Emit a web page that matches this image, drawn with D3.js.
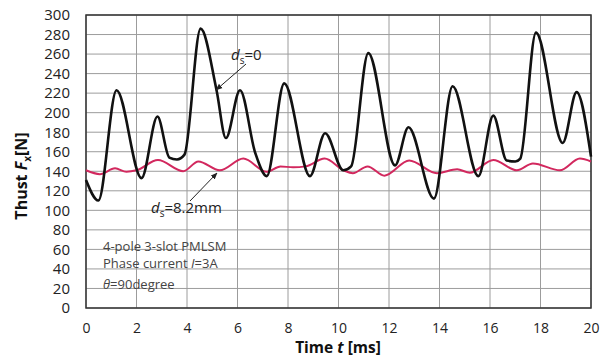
<!DOCTYPE html>
<html>
<head>
<meta charset="utf-8">
<script src="https://cdn.jsdelivr.net/npm/d3@7"></script>
<style>body{margin:0;background:#fff;}</style>
</head>
<body>
<script type="text/javascript">
var w = 609, h = 358;

// thrust with ds=0 (black)
var t0 = [0, 0.49, 1.21, 2.2, 2.83, 3.3, 3.6, 3.9, 4.54, 5.17, 5.54, 6.1, 6.7, 7.16, 7.85, 8.87, 9.47, 10.19, 10.5, 11.18, 12.24, 12.77, 13.78, 14.52, 15.54, 16.13, 16.66, 17.0, 17.2, 17.82, 18.88, 19.43, 20];
var f0 = [131, 110, 223, 133, 196, 154, 152, 157, 286, 223, 174, 223, 159, 135, 230, 135, 179, 141, 145, 261, 146, 185, 112, 227, 135, 197, 151, 150, 153, 282, 169, 221, 155];

// thrust with ds=8.2mm (red)
var t82 = [0, 0.55, 1.15, 1.6, 2.0, 2.85, 3.85, 4.45, 5.3, 6.23, 7.16, 7.7, 8.2, 8.7, 9.45, 10.2, 10.57, 11.15, 11.82, 12.8, 13.9, 14.7, 15.2, 16.13, 17.06, 17.7, 18.77, 19.56, 20];
var f82 = [141, 137, 143, 139.5, 141, 151.5, 140, 150, 141, 153, 139.5, 145, 144, 145, 153, 141, 138, 145, 135.5, 151, 138, 142, 138.5, 151.5, 141, 148, 141, 153, 150];

var yTicks = d3.range(0, 301, 20);
var xTicks = d3.range(0, 21, 2);

var m = {left: 86, right: 591, top: 15, bottom: 308};
var x = d3.scaleLinear().domain([0, 20]).range([m.left, m.right]);
var y = d3.scaleLinear().domain([0, 300]).range([m.bottom, m.top]);

const svg = d3.select("body").append("svg").attr("width", w).attr("height", h)
  .style("font-family", "'Open Sans', 'DejaVu Sans', sans-serif");

// GRID
var grid = svg.append("g");
grid.selectAll(".hg").data(yTicks).enter().append("line")
  .attr("x1", m.left).attr("x2", m.right)
  .attr("y1", d => y(d)).attr("y2", d => y(d))
  .attr("stroke", "#9c9c9c").attr("stroke-width", 1);
grid.selectAll(".vg").data(xTicks).enter().append("line")
  .attr("y1", m.top).attr("y2", m.bottom)
  .attr("x1", d => x(d)).attr("x2", d => x(d))
  .attr("stroke", "#9c9c9c").attr("stroke-width", 1);

// AXES (labels only)
var yAxis = svg.append("g").attr("transform", "translate(" + m.left + ",0)")
  .call(d3.axisLeft(y).tickValues(yTicks).tickSize(0).tickPadding(16));
yAxis.select(".domain").remove();
yAxis.selectAll("text").attr("font-size", 15).attr("fill", "#222")
  .attr("font-family", "'Open Sans', sans-serif");

var xAxis = svg.append("g").attr("transform", "translate(0," + m.bottom + ")")
  .call(d3.axisBottom(x).tickValues(xTicks).tickSize(0).tickPadding(15));
xAxis.select(".domain").remove();
xAxis.selectAll("text").attr("font-size", 14).attr("fill", "#222")
  .attr("font-family", "'Open Sans', sans-serif");

// FRAME
svg.append("rect").attr("x", m.left).attr("y", m.top)
  .attr("width", m.right - m.left).attr("height", m.bottom - m.top)
  .attr("fill", "none").attr("stroke", "#333").attr("stroke-width", 1.5);

// CURVES
var line = d3.line().curve(d3.curveMonotoneX).x(d => x(d[0])).y(d => y(d[1]));
svg.append("path").datum(d3.zip(t82, f82)).attr("d", line)
  .attr("fill", "none").attr("stroke", "#d2285e").attr("stroke-width", 2);
svg.append("path").datum(d3.zip(t0, f0)).attr("d", line)
  .attr("fill", "none").attr("stroke", "#111").attr("stroke-width", 2.6);

// ANNOTATIONS
svg.append("defs").append("marker").attr("id", "ah")
  .attr("viewBox", "0 0 10 10").attr("refX", 9).attr("refY", 5)
  .attr("markerWidth", 7).attr("markerHeight", 7).attr("orient", "auto")
  .append("path").attr("d", "M0,1L10,5L0,9z").attr("fill", "#222");

function label(xp, yp, rest) {
  var t = svg.append("text").attr("x", xp).attr("y", yp)
    .attr("font-size", 15).attr("fill", "#222");
  t.append("tspan").attr("font-style", "italic").text("d");
  t.append("tspan").attr("font-size", 10).attr("dy", 4).text("s");
  t.append("tspan").attr("dy", -4).text(rest);
}
label(231, 60, "=0");
label(151, 213, "=8.2mm");

svg.append("line").attr("x1", 246).attr("y1", 64).attr("x2", 216).attr("y2", 90)
  .attr("stroke", "#222").attr("stroke-width", 1).attr("marker-end", "url(#ah)");
svg.append("line").attr("x1", 190).attr("y1", 201).attr("x2", 217).attr("y2", 173)
  .attr("stroke", "#222").attr("stroke-width", 1).attr("marker-end", "url(#ah)");

// NOTE BOX TEXT
var note = svg.append("g").attr("font-size", 13).attr("fill", "#444");
note.append("text").attr("x", 103).attr("y", 251).text("4-pole 3-slot PMLSM");
var n2 = note.append("text").attr("x", 103).attr("y", 268);
n2.append("tspan").text("Phase current ");
n2.append("tspan").attr("font-style", "italic").text("I");
n2.append("tspan").text("=3A");
var n3 = note.append("text").attr("x", 103).attr("y", 289);
n3.append("tspan").attr("font-style", "italic").text("θ");
n3.append("tspan").text("=90degree");

// AXIS TITLES
var xt = svg.append("text").attr("x", 338).attr("y", 353).attr("text-anchor", "middle")
  .attr("font-size", 15.5).attr("font-weight", "bold").attr("fill", "#111");
xt.append("tspan").text("Time ");
xt.append("tspan").attr("font-style", "italic").text("t");
xt.append("tspan").text(" [ms]");

var yt = svg.append("text").attr("transform", "translate(27,176) rotate(-90)")
  .attr("text-anchor", "middle").attr("font-size", 16).attr("font-weight", "bold").attr("fill", "#111");
yt.append("tspan").text("Thust ");
yt.append("tspan").attr("font-style", "italic").text("F");
yt.append("tspan").attr("font-size", 10).attr("dy", 4).text("x");
yt.append("tspan").attr("dy", -4).text("[N]");
</script>
</body>
</html>
